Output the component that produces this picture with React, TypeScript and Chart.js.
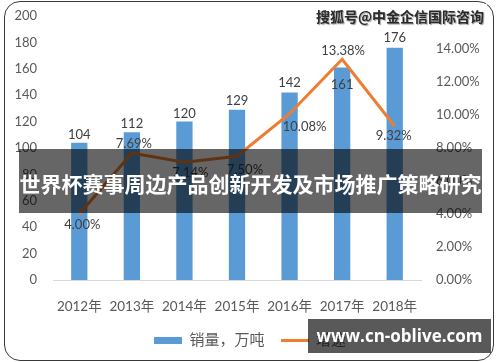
import React, { useEffect, useRef } from "react";
import { Chart, registerables } from "chart.js";

Chart.register(...registerables);

// ---- data ----
const categories = ["2012年", "2013年", "2014年", "2015年", "2016年", "2017年", "2018年"];
const salesValues = [104, 112, 120, 129, 142, 161, 176];
const growthValues = [4.0, 7.69, 7.14, 7.5, 10.08, 13.38, 9.32];
const salesName = "销量，万吨";
const growthName = "增速";
const leftMax = 200;
const leftStep = 20;
const rightMax = 16;
const rightStep = 2;

// ---- label placement (style) ----
const barLabelDY = [-8, -8, -8, -9, -10, 17, -10];
const lineLabelDX = [3, 2, 6, 8, 15, 1, -1];
const lineLabelDY = [11, -9, 11, 14, 13, -8, 10];

const BLUE = "#5B9BD5";
const ORANGE = "#ED7D31";
const TEXT = "#595959";
const LABEL = "#404040";
const FONT = "Lato, 'Noto Sans CJK SC', sans-serif";

function swatch(w: number, h: number, color: string) {
  const c = document.createElement("canvas");
  c.width = w;
  c.height = h;
  const g = c.getContext("2d")!;
  g.fillStyle = color;
  g.fillRect(0, 0, w, h);
  return c;
}

const dataLabelPlugin = {
  id: "dataLabels",
  afterDatasetsDraw(chart: any) {
    const ctx = chart.ctx;
    ctx.save();
    ctx.font = `13px ${FONT}`;
    ctx.fillStyle = LABEL;
    ctx.textAlign = "center";
    ctx.textBaseline = "middle";
    const barMeta = chart.getDatasetMeta(0);
    barMeta.data.forEach((el: any, i: number) => {
      ctx.fillText(String(salesValues[i]), el.x, el.y + barLabelDY[i]);
    });
    const lineMeta = chart.getDatasetMeta(1);
    lineMeta.data.forEach((el: any, i: number) => {
      ctx.fillText(growthValues[i].toFixed(2) + "%", el.x + lineLabelDX[i], el.y + lineLabelDY[i]);
    });
    ctx.restore();
  },
};

export default function App() {
  const ref = useRef<HTMLCanvasElement>(null);

  useEffect(() => {
    document.body.style.margin = "0";
    const blueSw = swatch(28, 7, BLUE);
    const orangeSw = swatch(28, 3, ORANGE);
    const chart = new Chart(ref.current!, {
      type: "bar",
      data: {
        labels: categories,
        datasets: [
          {
            type: "bar",
            label: salesName,
            data: salesValues,
            backgroundColor: BLUE,
            yAxisID: "y",
            categoryPercentage: 1,
            barPercentage: 0.31,
            order: 2,
          },
          {
            type: "line",
            label: growthName,
            data: growthValues,
            borderColor: ORANGE,
            backgroundColor: ORANGE,
            borderWidth: 3,
            pointRadius: 0,
            tension: 0,
            yAxisID: "y1",
            order: 1,
          } as any,
        ],
      },
      options: {
        responsive: false,
        animation: false,
        layout: { padding: { top: 16, bottom: 4, left: 0, right: 0 } },
        plugins: {
          tooltip: { enabled: false },
          legend: {
            position: "bottom",
            labels: {
              usePointStyle: true,
              pointStyleWidth: 28,
              boxHeight: 7,
              padding: 16,
              color: TEXT,
              font: { family: FONT, size: 15 },
              sort: (a: any, b: any) => a.datasetIndex - b.datasetIndex,
              generateLabels: (c: any) => {
                const items = (Chart.defaults.plugins.legend.labels as any).generateLabels(c);
                items.forEach((it: any) => {
                  it.pointStyle = it.datasetIndex === 0 ? blueSw : orangeSw;
                });
                return items;
              },
            },
          },
        },
        scales: {
          x: {
            grid: { display: false, drawTicks: false },
            border: { display: true, color: "#D9D9D9", width: 1 },
            ticks: { color: TEXT, font: { family: FONT, size: 13.5 }, padding: 19, maxRotation: 0 },
            afterFit: (s: any) => {
              s.height = 37;
            },
          },
          y: {
            position: "left",
            min: 0,
            max: leftMax,
            grid: { display: false, drawTicks: false },
            border: { display: false },
            ticks: { stepSize: leftStep, color: TEXT, font: { family: FONT, size: 13 }, padding: 16 },
            afterFit: (s: any) => {
              s.width = 53;
              s.paddingTop = 0;
              s.paddingBottom = 0;
            },
          },
          y1: {
            position: "right",
            min: 0,
            max: rightMax,
            grid: { display: false, drawTicks: false },
            border: { display: false },
            ticks: {
              stepSize: rightStep,
              color: TEXT,
              font: { family: FONT, size: 13 },
              padding: 15,
              callback: (v: any) => Number(v).toFixed(2) + "%",
            },
            afterFit: (s: any) => {
              s.width = 79;
              s.paddingTop = 0;
              s.paddingBottom = 0;
            },
          },
        },
      },
      plugins: [dataLabelPlugin],
    });
    return () => chart.destroy();
  }, []);

  return (
    <div style={{ position: "relative", width: 500, height: 362, background: "#fff", overflow: "hidden" }}>
      <canvas ref={ref} width={500} height={362} style={{ position: "absolute", left: 0, top: 0 }} />
      <div
        style={{
          position: "absolute",
          left: 4,
          top: 1,
          width: 490,
          height: 360,
          boxSizing: "border-box",
          border: "1.5px solid #3a3a3a",
          borderRadius: 16,
          pointerEvents: "none",
        }}
      />
      <div
        style={{
          position: "absolute",
          left: 313,
          top: 4,
          width: 174,
          height: 24,
          background: "#fff",
          color: "#2a2a2a",
          fontFamily: "'Noto Sans CJK SC', sans-serif",
          fontWeight: 700,
          fontSize: 14,
          lineHeight: "24px",
          textAlign: "center",
          whiteSpace: "nowrap",
          textShadow: "1px 1px 1px #999",
        }}
      >
        搜狐号@中金企信国际咨询
      </div>
      <div
        style={{
          position: "absolute",
          left: 19,
          top: 149,
          width: 463,
          height: 64,
          background: "rgba(0,0,0,0.6)",
          color: "#fff",
          fontFamily: "'Noto Sans CJK SC', sans-serif",
          fontWeight: 700,
          fontSize: 21,
          lineHeight: "68px",
          textAlign: "center",
          whiteSpace: "nowrap",
        }}
      >
        世界杯赛事周边产品创新开发及市场推广策略研究
      </div>
      <div
        style={{
          position: "absolute",
          left: 308,
          top: 319,
          width: 183,
          height: 34,
          background: "rgba(0,0,0,0.65)",
          color: "#fff",
          fontFamily: "'Open Sans', 'Noto Sans', sans-serif",
          fontWeight: 700,
          fontSize: 17,
          lineHeight: "34px",
          textAlign: "center",
          whiteSpace: "nowrap",
        }}
      >
        www.cn-oblive.com
      </div>
    </div>
  );
}
